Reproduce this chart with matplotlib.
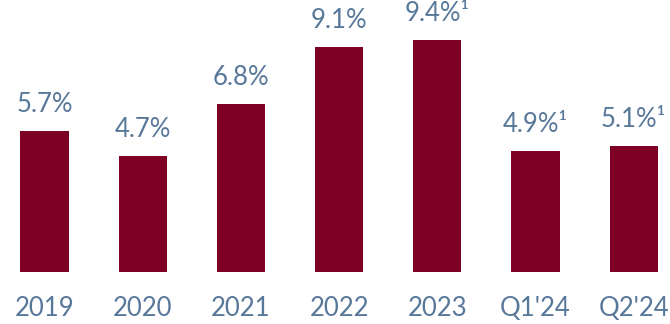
import matplotlib
matplotlib.use("Agg")
from matplotlib import pyplot as plt

periods = ["2019", "2020", "2021", "2022", "2023", "Q1'24", "Q2'24"]
values = [5.7, 4.7, 6.8, 9.1, 9.4, 4.9, 5.1]
labels = ["5.7%", "4.7%", "6.8%", "9.1%", "9.4%¹", "4.9%¹", "5.1%¹"]

bar_color = "#7e0024"
text_color = "#58789a"

plt.rcParams["font.family"] = ["Lato", "DejaVu Sans"]

fig = plt.figure(figsize=(6.7, 3.24), dpi=100)
ax = fig.add_axes([0, 52 / 324, 1, 272 / 324])

x = list(range(len(periods)))
ax.bar(x, values, width=0.49, color=bar_color)

for xi, v, lab in zip(x, values, labels):
    ax.annotate(lab, (xi, v), xytext=(0, 13.5), textcoords="offset points",
                ha="center", va="baseline", fontsize=18.5, color=text_color)

ax.set_xlim(-0.453, 6.37)
ax.set_ylim(0, 11.01)
ax.set_xticks(x)
ax.set_xticklabels(periods, fontsize=18.5, color=text_color)
ax.tick_params(axis="x", length=0, pad=17)
ax.set_yticks([])
for s in ax.spines.values():
    s.set_visible(False)

plt.savefig("out.png", dpi=100)
